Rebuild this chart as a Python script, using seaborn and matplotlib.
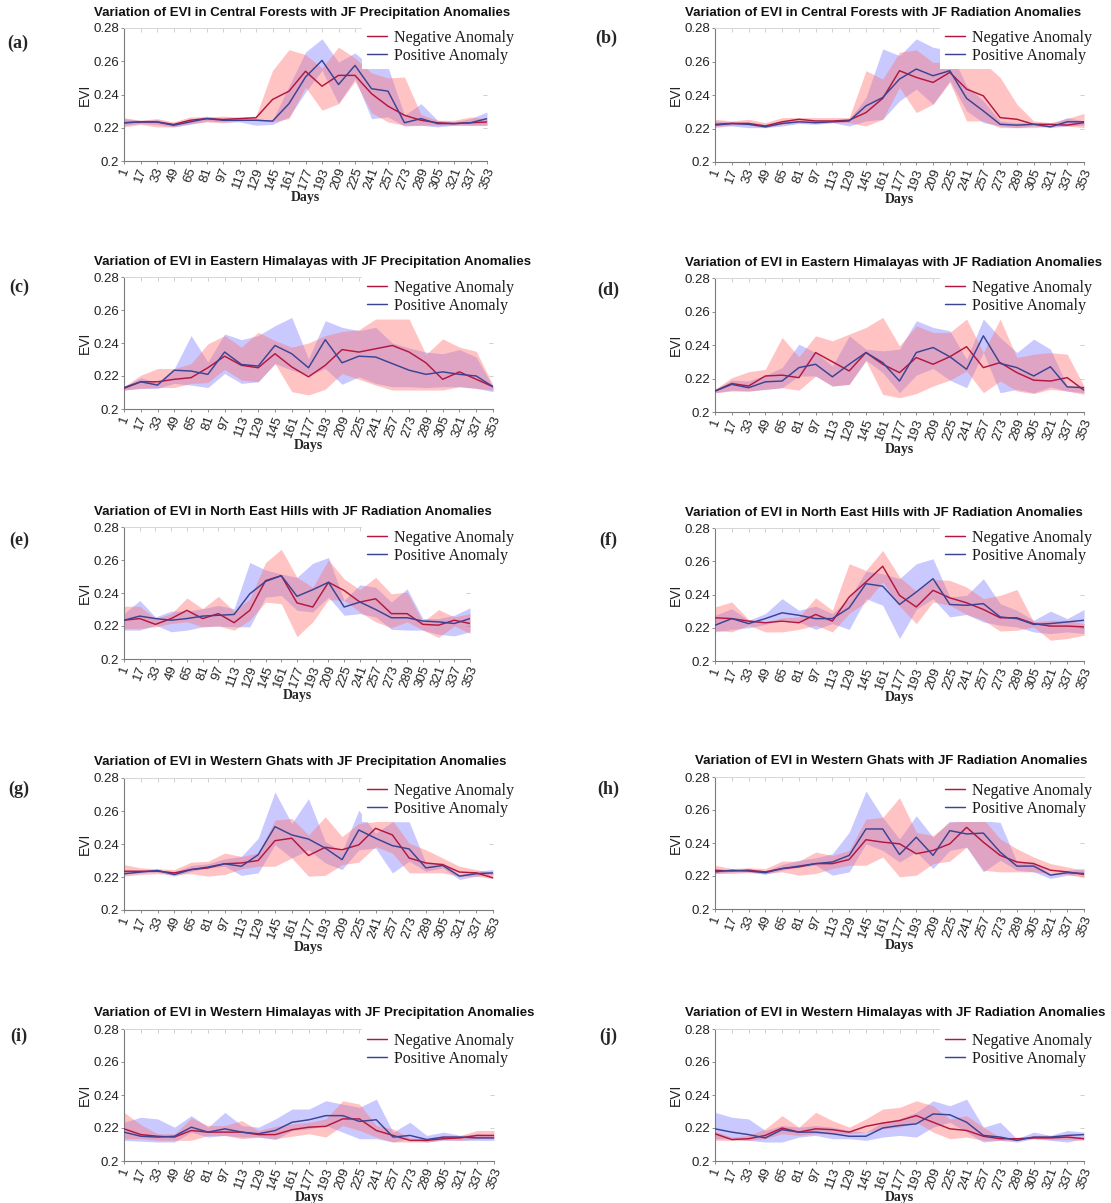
import matplotlib
matplotlib.use("Agg")
import matplotlib.pyplot as plt
import seaborn as sns

# Day of year (16-day composites)
days = list(range(1, 354, 16))
day_labels = [str(d) for d in days]
evi_ticks = [0.2, 0.22, 0.24, 0.26, 0.28]
evi_tick_labels = ["0.2", "0.22", "0.24", "0.26", "0.28"]
series_names = ["Negative Anomaly", "Positive Anomaly"]

titles = [
    "Variation of EVI in Central Forests with JF Precipitation Anomalies",
    "Variation of EVI in Central Forests with JF Radiation Anomalies",
    "Variation of EVI in Eastern Himalayas with JF Precipitation Anomalies",
    "Variation of EVI in Eastern Himalayas with JF Radiation Anomalies",
    "Variation of EVI in North East Hills with JF Radiation Anomalies",
    "Variation of EVI in North East Hills with JF Radiation Anomalies",
    "Variation of EVI in Western Ghats with JF Precipitation Anomalies",
    "Variation of EVI in Western Ghats with JF Radiation Anomalies",
    "Variation of EVI in Western Himalayas with JF Precipitation Anomalies",
    "Variation of EVI in Western Himalayas with JF Radiation Anomalies",
]
tags = ["(a)", "(b)", "(c)", "(d)", "(e)", "(f)", "(g)", "(h)", "(i)", "(j)"]

# (a) Central Forests - precipitation
a_neg = [0.223,0.2235,0.2235,0.222,0.2245,0.2255,0.225,0.2255,0.226,0.237,0.242,0.254,0.245,0.2515,0.2515,0.2405,0.233,0.2275,0.2245,0.223,0.2225,0.223,0.2235]
a_neg_lo = [0.2205,0.222,0.2205,0.2205,0.2225,0.2235,0.223,0.224,0.2245,0.2235,0.2255,0.2445,0.2305,0.2345,0.248,0.229,0.2235,0.2215,0.2215,0.2215,0.2215,0.2215,0.2215]
a_neg_hi = [0.226,0.2245,0.2255,0.2235,0.2265,0.2265,0.227,0.2265,0.227,0.2545,0.267,0.264,0.256,0.2685,0.262,0.253,0.25,0.2505,0.228,0.2245,0.2245,0.2265,0.2255]
a_pos = [0.223,0.2235,0.2235,0.2215,0.2235,0.2255,0.2245,0.2245,0.2245,0.224,0.2345,0.2505,0.2605,0.246,0.2575,0.2435,0.242,0.223,0.2255,0.2225,0.2225,0.223,0.2255]
a_pos_lo = [0.2215,0.2225,0.222,0.2205,0.222,0.224,0.2235,0.2235,0.2215,0.222,0.2265,0.2415,0.2545,0.2345,0.2495,0.2255,0.2265,0.221,0.2215,0.2205,0.2215,0.2215,0.2215]
a_pos_hi = [0.2255,0.2245,0.225,0.2225,0.225,0.227,0.2255,0.2255,0.2255,0.2245,0.245,0.2655,0.2735,0.2595,0.265,0.2565,0.2565,0.2275,0.2345,0.2245,0.2235,0.2255,0.2295]

# (b) Central Forests - radiation
b_neg = [0.2225,0.223,0.223,0.2215,0.224,0.2255,0.2245,0.2245,0.225,0.2295,0.238,0.2545,0.2505,0.2475,0.2535,0.2435,0.2395,0.2265,0.2255,0.2225,0.2225,0.222,0.2235]
b_neg_lo = [0.2205,0.222,0.222,0.2205,0.2225,0.2235,0.223,0.2235,0.2235,0.2215,0.2255,0.2445,0.2295,0.2345,0.2475,0.2245,0.2245,0.2205,0.2205,0.2205,0.2215,0.2215,0.2205]
b_neg_hi = [0.2255,0.2245,0.2255,0.2235,0.2265,0.2265,0.2265,0.2265,0.2265,0.2545,0.2495,0.2655,0.267,0.2595,0.2595,0.2595,0.2595,0.2505,0.2345,0.2245,0.2235,0.226,0.229]
b_pos = [0.222,0.223,0.2225,0.221,0.223,0.224,0.2235,0.224,0.2245,0.2335,0.2385,0.2495,0.2555,0.2515,0.2545,0.238,0.2305,0.2225,0.222,0.2225,0.221,0.224,0.224]
b_pos_lo = [0.2215,0.2215,0.2205,0.2205,0.2215,0.223,0.2225,0.2235,0.2215,0.2245,0.2255,0.2365,0.2435,0.2345,0.2485,0.2305,0.2235,0.2215,0.2205,0.2215,0.2205,0.2215,0.222]
b_pos_hi = [0.2245,0.224,0.224,0.2225,0.2245,0.225,0.2245,0.2245,0.2255,0.2385,0.2675,0.2635,0.2735,0.2685,0.2665,0.2455,0.2365,0.2245,0.2235,0.2235,0.2225,0.2265,0.2245]

# (c) Eastern Himalayas - precipitation
c_neg = [0.2125,0.2165,0.2165,0.218,0.219,0.225,0.232,0.2265,0.225,0.2335,0.2255,0.2195,0.2265,0.236,0.2345,0.2365,0.2385,0.2345,0.228,0.218,0.2225,0.218,0.2135]
c_neg_lo = [0.2115,0.2125,0.213,0.213,0.2155,0.216,0.224,0.2175,0.2165,0.2275,0.2105,0.2085,0.212,0.2215,0.218,0.2145,0.2115,0.2115,0.2115,0.2115,0.2135,0.2125,0.2115]
c_neg_hi = [0.2135,0.2205,0.2245,0.2245,0.2275,0.2395,0.2445,0.2375,0.2465,0.2415,0.2375,0.24,0.2445,0.247,0.248,0.2545,0.2545,0.2545,0.233,0.2425,0.2375,0.235,0.2145]
c_pos = [0.213,0.2165,0.2145,0.2235,0.223,0.221,0.2345,0.227,0.226,0.2385,0.2335,0.225,0.242,0.228,0.232,0.2315,0.2275,0.2235,0.221,0.2225,0.221,0.22,0.2135]
c_pos_lo = [0.2115,0.2125,0.2125,0.2155,0.2145,0.213,0.2215,0.2155,0.2165,0.2275,0.2235,0.2205,0.2245,0.215,0.2195,0.2155,0.2135,0.2135,0.213,0.2135,0.2135,0.2125,0.2105]
c_pos_hi = [0.2135,0.219,0.216,0.2245,0.2445,0.2285,0.2455,0.242,0.2445,0.2505,0.2555,0.2305,0.2535,0.2495,0.2475,0.2495,0.24,0.237,0.2345,0.2335,0.236,0.2315,0.2135]

# (d) Eastern Himalayas - radiation
d_neg = [0.2125,0.217,0.2155,0.2215,0.222,0.2205,0.2355,0.23,0.2245,0.2355,0.2285,0.2235,0.2325,0.2285,0.233,0.239,0.2265,0.2295,0.2235,0.219,0.2185,0.2205,0.213]
d_neg_lo = [0.2115,0.2125,0.2125,0.2135,0.2145,0.213,0.2215,0.2155,0.2165,0.2305,0.2105,0.2085,0.211,0.2155,0.219,0.2245,0.2115,0.2185,0.2125,0.211,0.2135,0.2125,0.2105]
d_neg_hi = [0.2135,0.2205,0.224,0.2255,0.2445,0.233,0.2455,0.2425,0.2465,0.2505,0.2565,0.2395,0.2515,0.2475,0.2475,0.2555,0.2355,0.2555,0.2325,0.2345,0.2355,0.2345,0.2155]
d_pos = [0.2125,0.2165,0.2145,0.218,0.2185,0.2265,0.2285,0.221,0.2285,0.2355,0.2295,0.2185,0.2355,0.2385,0.233,0.2255,0.2455,0.229,0.2265,0.2215,0.227,0.215,0.2145]
d_pos_lo = [0.2115,0.213,0.2125,0.2135,0.2145,0.2215,0.2215,0.2155,0.2165,0.231,0.2235,0.2115,0.222,0.226,0.219,0.2145,0.2355,0.2115,0.2135,0.2115,0.215,0.2125,0.2115]
d_pos_hi = [0.2135,0.219,0.2185,0.222,0.2265,0.2405,0.2355,0.2275,0.2455,0.2375,0.2365,0.2375,0.2545,0.2505,0.2485,0.2315,0.2555,0.2445,0.2355,0.2435,0.2375,0.2155,0.2155]

# (e) North East Hills - radiation
e_neg = [0.2235,0.2245,0.221,0.2245,0.2295,0.2245,0.2275,0.222,0.2295,0.2475,0.2505,0.234,0.2315,0.2465,0.2415,0.2345,0.2365,0.2275,0.2275,0.221,0.2205,0.2235,0.2215]
e_neg_lo = [0.2185,0.2185,0.2195,0.2215,0.2225,0.2195,0.22,0.2175,0.2235,0.2345,0.2335,0.2135,0.2225,0.236,0.2355,0.2285,0.2225,0.219,0.2225,0.2175,0.213,0.22,0.2155]
e_neg_hi = [0.232,0.232,0.2245,0.2275,0.237,0.2305,0.238,0.229,0.2365,0.2585,0.2665,0.2495,0.2435,0.26,0.2485,0.242,0.2495,0.2395,0.2405,0.2225,0.23,0.2255,0.2275]
e_pos = [0.2235,0.226,0.2245,0.2235,0.2245,0.226,0.2265,0.227,0.2395,0.247,0.2505,0.238,0.242,0.2465,0.2315,0.2345,0.23,0.225,0.225,0.223,0.2225,0.2215,0.2245]
e_pos_lo = [0.2175,0.2175,0.2205,0.2165,0.2175,0.2195,0.22,0.2195,0.2195,0.2375,0.2385,0.2295,0.2285,0.2375,0.2265,0.2275,0.2255,0.218,0.2175,0.2175,0.215,0.214,0.2165]
e_pos_hi = [0.2275,0.2355,0.2255,0.229,0.229,0.2305,0.2325,0.2305,0.2585,0.254,0.2515,0.2495,0.258,0.2615,0.2355,0.245,0.2435,0.2345,0.2425,0.2245,0.2245,0.2265,0.231]

# (f) North East Hills - radiation
f_neg = [0.226,0.2255,0.224,0.223,0.224,0.223,0.228,0.224,0.2385,0.2475,0.257,0.2395,0.2325,0.2425,0.238,0.235,0.231,0.226,0.226,0.2225,0.221,0.221,0.2205]
f_neg_lo = [0.2185,0.2175,0.2215,0.2175,0.2175,0.219,0.2215,0.2175,0.2285,0.2355,0.2475,0.233,0.2225,0.2355,0.2335,0.228,0.2245,0.218,0.2185,0.2205,0.2125,0.2135,0.2155]
f_neg_hi = [0.2325,0.2355,0.225,0.2235,0.226,0.2265,0.238,0.2305,0.2585,0.2545,0.2665,0.2505,0.242,0.249,0.2485,0.2445,0.2375,0.2395,0.243,0.2235,0.2245,0.2245,0.2225]
f_pos = [0.2215,0.2255,0.2225,0.2255,0.229,0.2275,0.2255,0.2255,0.232,0.2465,0.245,0.234,0.2415,0.2495,0.234,0.2335,0.2345,0.2265,0.2255,0.222,0.2225,0.2235,0.2245]
f_pos_lo = [0.2175,0.219,0.22,0.222,0.225,0.2235,0.219,0.2225,0.219,0.2375,0.2335,0.2135,0.231,0.2375,0.2265,0.228,0.2235,0.2215,0.2205,0.2175,0.2165,0.2175,0.2165]
f_pos_hi = [0.2275,0.2315,0.2245,0.2285,0.2375,0.2305,0.233,0.2285,0.2375,0.254,0.2525,0.2495,0.2585,0.2615,0.2385,0.2395,0.2495,0.2345,0.2305,0.2245,0.23,0.2255,0.231]

# (g) Western Ghats - precipitation
g_neg = [0.2235,0.2235,0.2235,0.2225,0.2245,0.2255,0.228,0.2285,0.23,0.242,0.2435,0.233,0.238,0.2365,0.2395,0.2495,0.2455,0.2315,0.2285,0.2275,0.223,0.2225,0.2195]
g_neg_lo = [0.2205,0.2215,0.222,0.2215,0.222,0.2205,0.2215,0.225,0.2265,0.2265,0.2315,0.2205,0.221,0.2275,0.229,0.2385,0.2345,0.2225,0.2225,0.2225,0.2205,0.2205,0.219]
g_neg_hi = [0.2275,0.2255,0.225,0.2245,0.229,0.2295,0.2345,0.2325,0.2345,0.2545,0.2555,0.2455,0.2565,0.2445,0.2525,0.2535,0.2545,0.2405,0.2365,0.2315,0.2265,0.2245,0.2225]
g_pos = [0.222,0.223,0.224,0.2215,0.2245,0.226,0.228,0.2265,0.2335,0.2505,0.2455,0.243,0.2375,0.2305,0.2485,0.2435,0.239,0.237,0.2255,0.227,0.2205,0.222,0.2225]
g_pos_lo = [0.2215,0.2225,0.223,0.2205,0.2235,0.2255,0.2265,0.221,0.2225,0.2395,0.2315,0.2365,0.2285,0.2245,0.2365,0.2375,0.2225,0.2295,0.2235,0.2255,0.2185,0.2205,0.2215]
g_pos_hi = [0.2235,0.224,0.2245,0.223,0.227,0.228,0.231,0.2325,0.2435,0.2715,0.2525,0.2675,0.2415,0.2355,0.2605,0.2465,0.2535,0.2535,0.2285,0.2285,0.2215,0.2235,0.2245]

# (h) Western Ghats - radiation
h_neg = [0.2235,0.223,0.2235,0.2225,0.2245,0.2255,0.2275,0.2275,0.23,0.242,0.2405,0.2395,0.2335,0.2355,0.2395,0.2495,0.2405,0.2325,0.2285,0.2275,0.2235,0.2225,0.221]
h_neg_lo = [0.2215,0.2215,0.222,0.2215,0.2225,0.2205,0.2215,0.2245,0.2265,0.2265,0.2315,0.2195,0.2205,0.2275,0.229,0.2375,0.2235,0.2225,0.2225,0.2225,0.2215,0.221,0.219]
h_neg_hi = [0.2265,0.2245,0.225,0.2245,0.229,0.229,0.2345,0.2325,0.2355,0.2545,0.2555,0.2675,0.2465,0.2445,0.2525,0.2535,0.2545,0.2425,0.2365,0.2315,0.2275,0.2255,0.2235]
h_pos = [0.2225,0.2235,0.223,0.222,0.2245,0.226,0.2275,0.2285,0.2325,0.2485,0.2485,0.233,0.2435,0.2325,0.2475,0.2455,0.246,0.2345,0.226,0.226,0.2205,0.222,0.2215]
h_pos_lo = [0.2215,0.2225,0.2225,0.221,0.2235,0.2255,0.2265,0.2205,0.2225,0.2395,0.2355,0.2285,0.2345,0.2245,0.2355,0.2375,0.2225,0.2295,0.2235,0.2225,0.2185,0.2205,0.2205]
h_pos_hi = [0.2235,0.224,0.2245,0.223,0.227,0.2295,0.231,0.2335,0.2465,0.2715,0.2555,0.2425,0.2565,0.2435,0.2535,0.2535,0.2535,0.2525,0.2285,0.2285,0.2215,0.2235,0.2245]

# (i) Western Himalayas - precipitation
i_neg = [0.2195,0.216,0.215,0.2145,0.2185,0.2175,0.2175,0.2175,0.216,0.216,0.219,0.2205,0.221,0.2255,0.2255,0.2185,0.2155,0.2125,0.2125,0.2135,0.214,0.2155,0.2155]
i_neg_lo = [0.2135,0.2135,0.2125,0.2125,0.2125,0.2155,0.2155,0.2135,0.2145,0.2135,0.215,0.2165,0.2145,0.2215,0.2185,0.2145,0.2115,0.2115,0.2115,0.213,0.2125,0.2135,0.2135]
i_neg_hi = [0.2295,0.222,0.2165,0.2165,0.226,0.2215,0.2215,0.2245,0.2185,0.221,0.2225,0.2235,0.2255,0.2365,0.2345,0.2215,0.2195,0.214,0.2135,0.2155,0.2155,0.2185,0.2185]
i_pos = [0.2175,0.215,0.2145,0.215,0.2205,0.2175,0.2195,0.2175,0.2165,0.2185,0.2235,0.225,0.2275,0.2275,0.224,0.225,0.2145,0.2155,0.213,0.2145,0.2145,0.214,0.214]
i_pos_lo = [0.2125,0.212,0.2115,0.2115,0.2175,0.2145,0.2155,0.2145,0.2145,0.213,0.2185,0.2195,0.2215,0.2175,0.2135,0.2135,0.2115,0.2135,0.2115,0.2125,0.2125,0.2125,0.2125]
i_pos_hi = [0.2235,0.2265,0.2255,0.2205,0.2275,0.2205,0.2295,0.2215,0.2205,0.2255,0.2315,0.2315,0.2365,0.2345,0.2325,0.2375,0.2175,0.2235,0.2155,0.2175,0.2155,0.2165,0.2155]

# (j) Western Himalayas - radiation
j_neg = [0.2165,0.213,0.2135,0.2155,0.22,0.2175,0.2195,0.219,0.2175,0.221,0.223,0.2245,0.2275,0.2235,0.2195,0.2185,0.215,0.2135,0.2135,0.214,0.214,0.2145,0.2135]
j_neg_lo = [0.2125,0.2125,0.2125,0.2135,0.2165,0.2155,0.2165,0.2165,0.2165,0.2175,0.2195,0.2205,0.2235,0.2175,0.2135,0.2145,0.2125,0.2125,0.2125,0.2135,0.213,0.213,0.2125]
j_neg_hi = [0.218,0.2145,0.2155,0.2195,0.2275,0.2205,0.2295,0.2245,0.2205,0.2255,0.2315,0.2325,0.2365,0.2335,0.2255,0.2275,0.2205,0.2145,0.214,0.2155,0.2155,0.2155,0.2145]
j_pos = [0.2195,0.2175,0.216,0.214,0.219,0.2175,0.2175,0.2165,0.215,0.215,0.22,0.2215,0.2225,0.2285,0.228,0.2235,0.2155,0.2145,0.2125,0.2145,0.2145,0.2155,0.216]
j_pos_lo = [0.2135,0.2135,0.2125,0.2115,0.2115,0.2145,0.2155,0.2135,0.2135,0.2125,0.2145,0.2155,0.2145,0.2205,0.2235,0.2175,0.2115,0.2125,0.2115,0.2135,0.2125,0.2115,0.2135]
j_pos_hi = [0.2295,0.2265,0.2255,0.2185,0.2215,0.2205,0.2215,0.2205,0.2185,0.2175,0.2235,0.2255,0.2295,0.2365,0.2335,0.2375,0.2205,0.2235,0.2135,0.2175,0.2155,0.2185,0.2175]

neg_sets = [
    (a_neg, a_neg_lo, a_neg_hi), (b_neg, b_neg_lo, b_neg_hi),
    (c_neg, c_neg_lo, c_neg_hi), (d_neg, d_neg_lo, d_neg_hi),
    (e_neg, e_neg_lo, e_neg_hi), (f_neg, f_neg_lo, f_neg_hi),
    (g_neg, g_neg_lo, g_neg_hi), (h_neg, h_neg_lo, h_neg_hi),
    (i_neg, i_neg_lo, i_neg_hi), (j_neg, j_neg_lo, j_neg_hi),
]
pos_sets = [
    (a_pos, a_pos_lo, a_pos_hi), (b_pos, b_pos_lo, b_pos_hi),
    (c_pos, c_pos_lo, c_pos_hi), (d_pos, d_pos_lo, d_pos_hi),
    (e_pos, e_pos_lo, e_pos_hi), (f_pos, f_pos_lo, f_pos_hi),
    (g_pos, g_pos_lo, g_pos_hi), (h_pos, h_pos_lo, h_pos_hi),
    (i_pos, i_pos_lo, i_pos_hi), (j_pos, j_pos_lo, j_pos_hi),
]

# Layout in pixels: axes box (left, right, top, bottom), title left/centre-y,
# panel tag centre, legend first-handle start
W, H = 1111, 1203
boxes = [(124, 487, 28, 161), (715, 1084, 28, 162),
         (124, 493, 277, 409), (715, 1084, 278, 412),
         (124, 470, 527, 659), (715, 1084, 528, 661),
         (124, 493, 778, 910), (715, 1084, 777, 909),
         (124, 494, 1029, 1161), (715, 1084, 1029, 1161)]
title_pos = [(94, 13), (685, 13), (94, 262), (685, 263), (94, 512),
             (685, 513), (94, 762), (695, 761), (94, 1013), (685, 1013)]
tag_pos = [(18, 43), (606, 38), (19, 287), (608, 290), (19, 540),
           (608, 540), (19, 789), (608, 789), (19, 1036), (608, 1036)]
legend_pos = [(367, 38), (945, 38), (367, 288), (945, 288), (367, 538),
              (945, 538), (367, 791), (945, 791), (367, 1041), (945, 1041)]

NEG_LINE = "#b3173f"
POS_LINE = "#3a4394"
NEG_FILL = "#ff7272"
POS_FILL = "#7272ff"
SPINE = "#7c7c7c"
FRAME = "#d6d6d6"

sns.set_style("white")
plt.rcParams["font.family"] = ["Liberation Sans", "DejaVu Sans"]

fig = plt.figure(figsize=(W / 100, H / 100), dpi=100)


def fx(px):
    return px / W


def fy(py):
    return 1 - py / H


for k in range(10):
    l, r, t, b = boxes[k]
    ax = fig.add_axes([fx(l), fy(b), (r - l) / W, (b - t) / H])
    neg, neg_lo, neg_hi = neg_sets[k]
    pos, pos_lo, pos_hi = pos_sets[k]

    ax.fill_between(days, pos_lo, pos_hi, color=POS_FILL, alpha=0.38, lw=0, zorder=1)
    ax.fill_between(days, neg_lo, neg_hi, color=NEG_FILL, alpha=0.42, lw=0, zorder=1.1)
    sns.lineplot(x=days, y=neg, color=NEG_LINE, lw=1.05, ax=ax,
                 label=series_names[0], zorder=3)
    sns.lineplot(x=days, y=pos, color=POS_LINE, lw=1.05, ax=ax,
                 label=series_names[1], zorder=3)

    ax.set_xlim(days[0], days[-1])
    ax.set_ylim(evi_ticks[0], evi_ticks[-1])
    ax.set_xticks(days)
    ax.set_xticklabels(day_labels, rotation=70, fontsize=9.5, ha="center",
                       color="#222222")
    ax.set_yticks(evi_ticks)
    ax.set_yticklabels(evi_tick_labels, fontsize=9.5, color="#222222")
    ax.tick_params(axis="both", direction="out", length=2.5, width=0.6,
                   color=SPINE, pad=1, bottom=True, left=True)
    ax.set_xlabel("")
    ax.set_ylabel("")

    for side in ("left", "bottom"):
        ax.spines[side].set_color(SPINE)
        ax.spines[side].set_linewidth(0.8)
    ax.spines["top"].set_color(FRAME)
    ax.spines["top"].set_linewidth(0.7)
    ax.spines["right"].set_visible(False)

    # light inward ticks on the top and right edges of the frame
    top = ax.secondary_xaxis("top")
    top.set_xticks(days)
    top.tick_params(direction="in", length=3, width=0.6, color="#c8c8c8",
                    labeltop=False)
    for s in top.spines.values():
        s.set_visible(False)
    right = ax.secondary_yaxis("right")
    right.set_yticks(evi_ticks)
    right.tick_params(direction="in", length=3, width=0.6, color="#c8c8c8",
                      labelright=False)
    for s in right.spines.values():
        s.set_visible(False)

    lx, ly = legend_pos[k]
    leg = ax.legend(loc="upper left", bbox_to_anchor=(fx(lx - 5), fy(ly - 13)),
                    bbox_transform=fig.transFigure, borderaxespad=0,
                    borderpad=0.3, handlelength=1.25, handletextpad=0.45,
                    labelspacing=0.12, frameon=True, fancybox=False,
                    facecolor="white", edgecolor="none", framealpha=1,
                    prop={"family": "Liberation Serif", "size": 11.5})
    leg.set_zorder(10)
    for txt in leg.get_texts():
        txt.set_color("#1a1a1a")

    tx, ty = title_pos[k]
    fig.text(fx(tx), fy(ty), titles[k], ha="left", va="center",
             fontsize=9.5, fontweight="bold", color="#111111")
    gx, gy = tag_pos[k]
    fig.text(fx(gx), fy(gy), tags[k], ha="center", va="center",
             fontsize=13, fontweight="bold", family="Liberation Serif")
    fig.text(fx((l + r) / 2), fy(b + 37), "Days", ha="center", va="center",
             fontsize=10, fontweight="bold", family="Liberation Serif")
    fig.text(fx(l - 39), fy((t + b) / 2), "EVI", ha="center", va="center",
             rotation=90, fontsize=10, color="#222222")

fig.savefig("out.png", dpi=100)
